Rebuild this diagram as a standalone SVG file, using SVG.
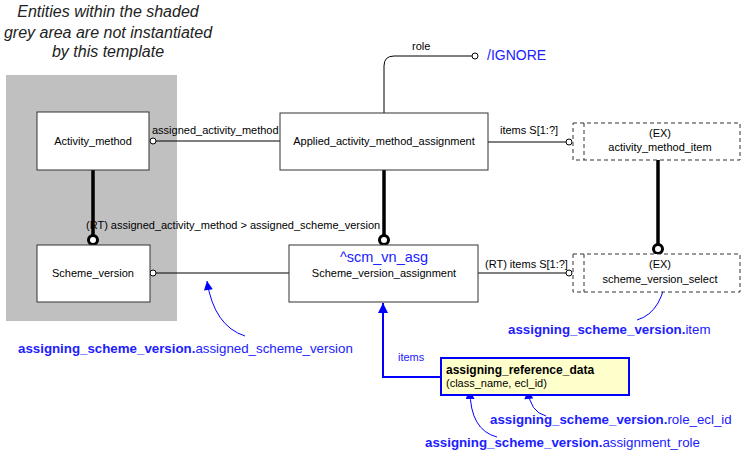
<svg xmlns="http://www.w3.org/2000/svg" width="744" height="452" viewBox="0 0 744 452">
<defs>
<style>
.t{font-family:"Liberation Sans",Arial,sans-serif;font-size:11px;fill:#000}
.title{font-family:"Liberation Sans",Arial,sans-serif;font-size:16px;font-style:italic;fill:#222;text-anchor:middle}
.box{fill:#fff;stroke:#333;stroke-width:1}
.dbox{fill:#fff;stroke:#333;stroke-width:1;stroke-dasharray:4,3}
.ln{fill:none;stroke:#000;stroke-width:1}
.thick{fill:none;stroke:#000;stroke-width:3.5}
.oc{fill:#fff;stroke:#000;stroke-width:1}
.tc{fill:#fff;stroke:#000;stroke-width:3}
.blue{fill:none;stroke:#0000ff;stroke-width:1}
.bl{font-family:"Liberation Sans",Arial,sans-serif;font-size:13.3px;fill:#2020ff}
.blb{font-weight:bold}
.c{text-anchor:middle}
</style>
<marker id="ah" viewBox="0 0 10 10" refX="10" refY="5" markerWidth="13" markerHeight="9" markerUnits="userSpaceOnUse" orient="auto">
<path d="M0,0 L10,5 L0,10 z" fill="#0000ff"/>
</marker>
<marker id="ahb" viewBox="0 0 10 10" refX="10" refY="5" markerWidth="14" markerHeight="10" markerUnits="userSpaceOnUse" orient="auto">
<path d="M0,0 L10,5 L0,10 z" fill="#0000ff"/>
</marker>
</defs>
<rect x="0" y="0" width="744" height="452" fill="#fff"/>
<g id="note">
<text class="title" x="108" y="17">Entities within the shaded</text>
<text class="title" x="108" y="38">grey area are not instantiated</text>
<text class="title" x="108" y="57">by this template</text>
<rect x="6" y="75" width="171" height="246" fill="#c0c0c0"/>
</g>
<g id="connectors">
<line class="ln" x1="155" y1="141" x2="280" y2="141"/>
<circle class="oc" cx="153" cy="141" r="3"/>
<text class="t" x="152" y="134">assigned_activity_method</text>
<line class="ln" x1="488" y1="142" x2="566" y2="142"/>
<circle class="oc" cx="569" cy="142" r="3"/>
<text class="t" x="500" y="134">items S[1:?]</text>
<path class="ln" d="M384,113 V66 Q384,56 394,56 H472"/>
<circle class="oc" cx="475" cy="56" r="3"/>
<text class="t" x="412" y="50">role</text>
<text class="bl" x="487" y="60" style="font-size:14px">/IGNORE</text>
<line class="thick" x1="93" y1="170" x2="93" y2="235"/>
<circle class="tc" cx="93" cy="240" r="4.5"/>
<line class="thick" x1="384" y1="170" x2="384" y2="235"/>
<circle class="tc" cx="384" cy="240" r="4.5"/>
<line class="thick" x1="658" y1="160" x2="658" y2="244"/>
<circle class="tc" cx="658" cy="249" r="4.5"/>
<text class="t" x="86" y="229">(RT) assigned_activity_method &gt; assigned_scheme_version</text>
<line class="ln" x1="156" y1="273" x2="289" y2="273"/>
<circle class="oc" cx="153" cy="273" r="3"/>
<line class="ln" x1="478" y1="273" x2="566" y2="273"/>
<circle class="oc" cx="569" cy="273" r="3"/>
<text class="t" x="485" y="268">(RT) items S[1:?]</text>
<path d="M441,377 H383 V303" fill="none" stroke="#0000ff" stroke-width="2" marker-end="url(#ahb)"/>
<text class="bl" x="398" y="361" style="font-size:11px">items</text>
<path class="blue" d="M245,336 Q214,326 207,281" marker-end="url(#ah)"/>
<path class="blue" d="M637,320 Q664,312 667,268" marker-end="url(#ah)"/>
<path class="blue" d="M546,416 Q530,412 528,390" marker-end="url(#ah)"/>
<path class="blue" d="M497,437 Q470,430 470,390" marker-end="url(#ah)"/>
</g>
<g id="activity_method">
<rect class="box" x="37" y="112" width="112" height="58"/>
<text class="t c" x="93" y="145">Activity_method</text>
</g>
<g id="scheme_version">
<rect class="box" x="37" y="245" width="113" height="57"/>
<text class="t c" x="93" y="277">Scheme_version</text>
</g>
<g id="applied_activity_method_assignment">
<rect class="box" x="280" y="113" width="208" height="57"/>
<text class="t c" x="384" y="145">Applied_activity_method_assignment</text>
</g>
<g id="scheme_version_assignment">
<rect class="box" x="289" y="245" width="189" height="57"/>
<text class="bl c" x="384" y="262" style="font-size:14.5px">^scm_vn_asg</text>
<text class="t c" x="384" y="277">Scheme_version_assignment</text>
</g>
<g id="activity_method_item">
<rect class="dbox" x="573" y="123" width="167" height="37"/>
<line class="dbox" x1="584" y1="123" x2="584" y2="160"/>
<text class="t c" x="660" y="137">(EX)</text>
<text class="t c" x="660" y="151">activity_method_item</text>
</g>
<g id="scheme_version_select">
<rect class="dbox" x="573" y="254" width="167" height="38"/>
<line class="dbox" x1="584" y1="254" x2="584" y2="292"/>
<text class="t c" x="660" y="268">(EX)</text>
<text class="t c" x="660" y="283">scheme_version_select</text>
</g>
<g id="assigning_reference_data">
<rect x="441" y="358" width="188" height="37" fill="#ffffcc" stroke="#0000ff" stroke-width="2"/>
<text class="t" x="446" y="374" style="font-weight:bold;font-size:12px">assigning_reference_data</text>
<text class="t" x="446" y="387">(class_name, ecl_id)</text>
</g>
<g id="labels">
<text class="bl" x="18" y="353"><tspan class="blb">assigning_scheme_version.</tspan>assigned_scheme_version</text>
<text class="bl" x="508" y="334"><tspan class="blb">assigning_scheme_version.</tspan>item</text>
<text class="bl" x="490" y="424"><tspan class="blb">assigning_scheme_version.</tspan>role_ecl_id</text>
<text class="bl" x="425" y="447"><tspan class="blb">assigning_scheme_version.</tspan>assignment_role</text>
</g>
</svg>
